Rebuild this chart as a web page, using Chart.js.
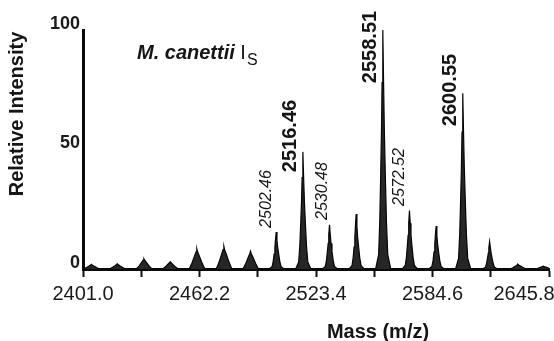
<!DOCTYPE html>
<html><head><meta charset="utf-8">
<script src="https://cdn.jsdelivr.net/npm/chart.js@4.4.0/dist/chart.umd.min.js"></script>
<style>html,body{margin:0;padding:0;background:#fff;overflow:hidden}#wrap{width:554px;height:341px;position:relative}</style>
</head><body><div id="wrap"><canvas id="c" width="554" height="341"></canvas></div>
<script>
// ---- data ----
const spectrumMz = [
  2401.0,
  2401.4,2402.9,2404.2,2405.0,2405.4,2405.8,2406.7,2408.1,2409.6,
  2415.0,2416.5,2417.8,2418.6,2419.0,2419.4,2420.3,2421.7,2423.2,
  2429.0,2430.5,2431.8,2432.6,2433.0,2433.4,2434.3,2435.7,2437.2,
  2442.8,2444.3,2445.6,2446.4,2446.8,2447.2,2448.1,2449.5,2451.0,
  2456.8,2458.3,2459.6,2460.4,2460.8,2461.2,2462.1,2463.5,2465.0,
  2471.0,2472.5,2473.8,2474.6,2475.0,2475.4,2476.3,2477.7,2479.2,
  2485.0,2486.5,2487.8,2488.6,2489.0,2489.4,2490.3,2491.7,2493.2,
  2498.7,2500.3,2500.9,2501.4,2501.8,2502.1,2502.5,2502.9,2503.3,2503.8,2504.4,2505.1,2506.7,
  2512.7,2514.3,2514.9,2515.4,2515.8,2516.1,2516.5,2516.9,2517.3,2517.8,2518.4,2519.1,2520.7,
  2526.7,2528.3,2528.9,2529.4,2529.8,2530.1,2530.5,2530.9,2531.3,2531.8,2532.4,2533.1,2534.7,
  2540.7,2542.3,2542.9,2543.4,2543.8,2544.1,2544.5,2544.9,2545.3,2545.8,2546.4,2547.1,2548.7,
  2554.7,2556.3,2556.9,2557.4,2557.8,2558.1,2558.5,2558.9,2559.3,2559.8,2560.4,2561.1,2562.7,
  2568.7,2570.3,2570.9,2571.4,2571.8,2572.1,2572.5,2572.9,2573.3,2573.8,2574.4,2575.1,2576.7,
  2582.7,2584.3,2584.9,2585.4,2585.8,2586.1,2586.5,2586.9,2587.3,2587.8,2588.4,2589.1,2590.7,
  2596.7,2598.3,2598.9,2599.4,2599.8,2600.1,2600.5,2600.9,2601.3,2601.8,2602.4,2603.1,2604.7,
  2610.8,2612.4,2613.0,2613.5,2613.9,2614.2,2614.6,2615.0,2615.4,2615.9,2616.5,2617.2,2618.8,
  2625.5,2627.0,2628.3,2629.1,2629.5,2629.9,2630.8,2632.2,2633.7,
  2638.8,2640.3,2641.6,2642.4,2642.8,2643.2,2644.1,2645.5,2645.8
];
const spectrumIntensity = [
  0,
  0,0.6,1.3,1.7,2.0,1.7,1.3,0.6,0,
  0,0.7,1.4,1.9,2.2,1.9,1.4,0.7,0,
  0,1.3,2.8,3.7,4.3,3.7,2.8,1.3,0,
  0,0.9,2.0,2.6,3.0,2.6,2.0,0.9,0,
  0,2.6,5.5,7.2,8.5,7.2,5.5,2.6,0,
  0,2.9,6.2,8.1,9.5,8.1,6.2,2.9,0,
  0,2.3,4.9,6.4,7.5,6.4,4.9,2.3,0,
  0,0.9,3.1,6.2,9.0,12.1,15.5,12.1,9.0,6.2,3.1,0.9,0,
  0,2.9,9.8,19.6,28.4,38.2,49,38.2,28.4,19.6,9.8,2.9,0,
  0,1.1,3.7,7.4,10.7,14.4,18.5,14.4,10.7,7.4,3.7,1.1,0,
  0,1.4,4.6,9.2,13.3,17.9,23,17.9,13.3,9.2,4.6,1.4,0,
  0,6,20,40,58,78,100,78,58,40,20,6,0,
  0,1.5,4.9,9.8,14.2,19.1,24.5,19.1,14.2,9.8,4.9,1.5,0,
  0,1.1,3.6,7.2,10.4,14.0,18,14.0,10.4,7.2,3.6,1.1,0,
  0,4.4,14.7,29.4,42.6,57.3,73.5,57.3,42.6,29.4,14.7,4.4,0,
  0,0.7,2.3,4.6,6.7,9.0,11.5,9.0,6.7,4.6,2.3,0.7,0,
  0,0.6,1.3,1.7,2.0,1.7,1.3,0.6,0,
  0,0.4,0.8,1.0,1.2,1.0,0.8,0.4,0.3
];
const peakLabelMz = [2502.46, 2516.46, 2530.48, 2558.51, 2572.52, 2600.55];
const peakLabelText = ['2502.46', '2516.46', '2530.48', '2558.51', '2572.52', '2600.55'];
const xTickValues = [2401.0, 2431.6, 2462.2, 2492.8, 2523.4, 2554.0, 2584.6, 2615.2, 2645.8];
const xTickLabels = ['2401.0', '', '2462.2', '', '2523.4', '', '2584.6', '', '2645.8'];
const yTickValues = [0, 50, 100];
const yTickLabels = ['0', '50', '100'];
const xTitle = 'Mass (m/z)';
const yTitle = 'Relative Intensity';
const sampleName = 'M. canettii';
const sampleIsolate = 'I';
const sampleSub = 'S';

// ---- styling / layout ----
const FONT = '"Liberation Sans", Arial, Helvetica, sans-serif';
Chart.defaults.font.family = FONT;
const peakLabelStyle = [
  {font: 'italic 16px ' + FONT, dx: -9.5, cy: 199},
  {font: 'bold 20px ' + FONT, dx: -12, cy: 136},
  {font: 'italic 16px ' + FONT, dx: -7, cy: 191},
  {font: 'bold 20px ' + FONT, dx: -12, cy: 47},
  {font: 'italic 16px ' + FONT, dx: -9.5, cy: 177},
  {font: 'bold 20px ' + FONT, dx: -12.5, cy: 90}
];

const points = spectrumMz.map((m, i) => ({x: m, y: spectrumIntensity[i]}));

const textPlugin = {
  id: 'textPlugin',
  afterDatasetsDraw(chart) {
    const {ctx, scales: {x}} = chart;
    ctx.save();
    ctx.fillStyle = '#151515';
    ctx.textAlign = 'center';
    ctx.textBaseline = 'middle';
    peakLabelMz.forEach((mz, i) => {
      const st = peakLabelStyle[i];
      ctx.save();
      ctx.translate(x.getPixelForValue(mz) + st.dx, st.cy);
      ctx.rotate(-Math.PI / 2);
      ctx.font = st.font;
      ctx.fillText(peakLabelText[i], 0, 0);
      ctx.restore();
    });
    // axis titles
    ctx.font = 'bold 20px ' + FONT;
    ctx.fillText(xTitle, 378, 332);
    ctx.save();
    ctx.translate(17, 114);
    ctx.rotate(-Math.PI / 2);
    ctx.fillText(yTitle, 0, 0);
    ctx.restore();
    // sample name
    ctx.textAlign = 'left';
    ctx.textBaseline = 'alphabetic';
    ctx.font = 'italic bold 20px ' + FONT;
    ctx.fillText(sampleName, 137, 59);
    const w = ctx.measureText(sampleName + ' ').width;
    ctx.font = '20px ' + FONT;
    ctx.fillText(sampleIsolate, 137 + w, 59);
    const w2 = ctx.measureText(sampleIsolate).width;
    ctx.font = '16px ' + FONT;
    ctx.fillText(sampleSub, 137 + w + w2 + 1, 65);
    ctx.restore();
  }
};

new Chart(document.getElementById('c'), {
  type: 'line',
  data: {
    datasets: [{
      data: points,
      borderColor: '#050505',
      backgroundColor: '#262626',
      borderWidth: 1.2,
      pointRadius: 0,
      tension: 0,
      fill: 'origin'
    }]
  },
  options: {
    responsive: false,
    animation: false,
    devicePixelRatio: 1,
    layout: {padding: {left: 0, top: 30, right: 5, bottom: 0}},
    plugins: {legend: {display: false}, tooltip: {enabled: false}},
    scales: {
      x: {
        type: 'linear',
        min: 2401.0,
        max: 2645.8,
        afterBuildTicks: (s) => { s.ticks = xTickValues.map(v => ({value: v})); },
        afterFit: (s) => { s.height = 72; s.paddingLeft = 0; s.paddingRight = 0; },
        ticks: {
          autoSkip: false,
          maxRotation: 0,
          padding: 5,
          color: '#1a1a1a',
          font: {size: 20},
          callback: (v, i) => (i === xTickLabels.length - 1 ? xTickLabels[i] + '         ' : xTickLabels[i])
        },
        grid: {display: true, drawOnChartArea: false, drawTicks: true, tickLength: 8, tickWidth: 2, tickColor: '#111', color: '#111'},
        border: {display: true, width: 3, color: '#0a0a0a'}
      },
      y: {
        min: 0,
        max: 100,
        afterBuildTicks: (s) => { s.ticks = yTickValues.map(v => ({value: v})); },
        afterFit: (s) => { s.width = 83; s.paddingTop = 0; s.paddingBottom = 0; },
        ticks: {
          padding: 3,
          labelOffset: -6,
          color: '#1a1a1a',
          font: {size: 18, weight: 'bold'},
          callback: (v, i) => yTickLabels[i]
        },
        grid: {display: false, drawTicks: false},
        border: {display: true, width: 3, color: '#0a0a0a'}
      }
    }
  },
  plugins: [textPlugin]
});
</script></body></html>
